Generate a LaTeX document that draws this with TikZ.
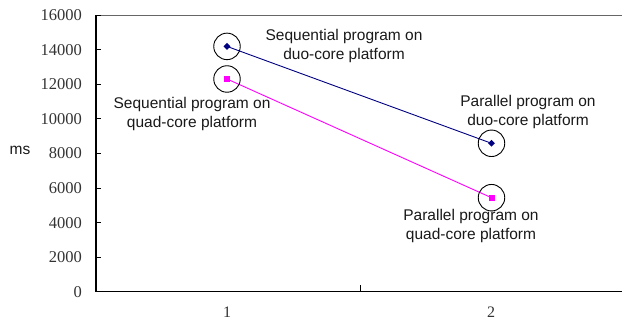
\documentclass[tikz,border=0pt]{standalone}
\usepackage{fontspec}
\setmainfont{Liberation Serif}
\setsansfont{Liberation Sans}
\usetikzlibrary{shapes.geometric}
\definecolor{navy}{RGB}{0,0,128}
\definecolor{mag}{RGB}{255,0,255}
\begin{document}
\begin{tikzpicture}[x=1pt,y=-1pt,
 lbl/.style={font=\sffamily\fontsize{15.5}{19}\selectfont, align=center, inner sep=0pt, text=black!90},
 ticklbl/.style={font=\rmfamily\fontsize{16.5}{16.5}\selectfont, anchor=east, inner sep=0pt, text=black!80},
 catlbl/.style={font=\rmfamily\fontsize{16}{16}\selectfont, inner sep=0pt, text=black!80},
 ring/.style={circle, draw=black, line width=0.9pt, minimum size=26.5pt, inner sep=0pt},
 dmark/.style={diamond, fill=navy, inner sep=0pt, minimum size=7pt},
 smark/.style={rectangle, fill=mag, inner sep=0pt, minimum size=6pt}]
\useasboundingbox (0,0) rectangle (622,320);
% frame and axes
\draw[black!60, line width=1pt] (96,15.3) -- (622,15.3);
\draw[black, line width=1.4pt] (96,15.3) -- (96,291.7) -- (622,291.7);
% y ticks
\foreach \k in {0,...,8}{
  \pgfmathsetmacro{\yy}{291.7-34.55*\k}
  \pgfmathtruncatemacro{\vv}{2000*\k}
  \draw[black, line width=1pt] (96,\yy) -- (100.5,\yy);
  \node[ticklbl] (t\k) at (82,\yy) {\vv};
}
\draw[black, line width=1pt] (360,291.7) -- (360,285.5);
\node[catlbl] (c1) at (227,312.5) {1};
\node[catlbl] (c2) at (491,312.5) {2};
\node[lbl] (ms) at (20,150) {ms};
% data
\node[dmark] (b1) at (227,46.4) {};
\node[dmark] (b2) at (491.5,143.3) {};
\node[smark] (m1) at (227,79) {};
\node[smark] (m2) at (491.5,197.7) {};
\draw[navy, line width=0.9pt] (b1.center) -- (b2.center);
\draw[mag, line width=0.9pt] (m1.center) -- (m2.center);
\node[ring] (r1) at (b1.center) {};
\node[ring] (r2) at (b2.center) {};
\node[ring] (r3) at (m1.center) {};
\node[ring] (r4) at (m2.center) {};
% labels
\node[lbl] (l1) at (344,46) {Sequential program on\\duo-core platform};
\node[lbl] (l2) at (192,113.5) {Sequential program on\\quad-core platform};
\node[lbl] (l3) at (528,112) {Parallel program on\\duo-core platform};
\node[lbl] (l4) at (471,225.5) {Parallel program on\\quad-core platform};
\end{tikzpicture}
\end{document}
